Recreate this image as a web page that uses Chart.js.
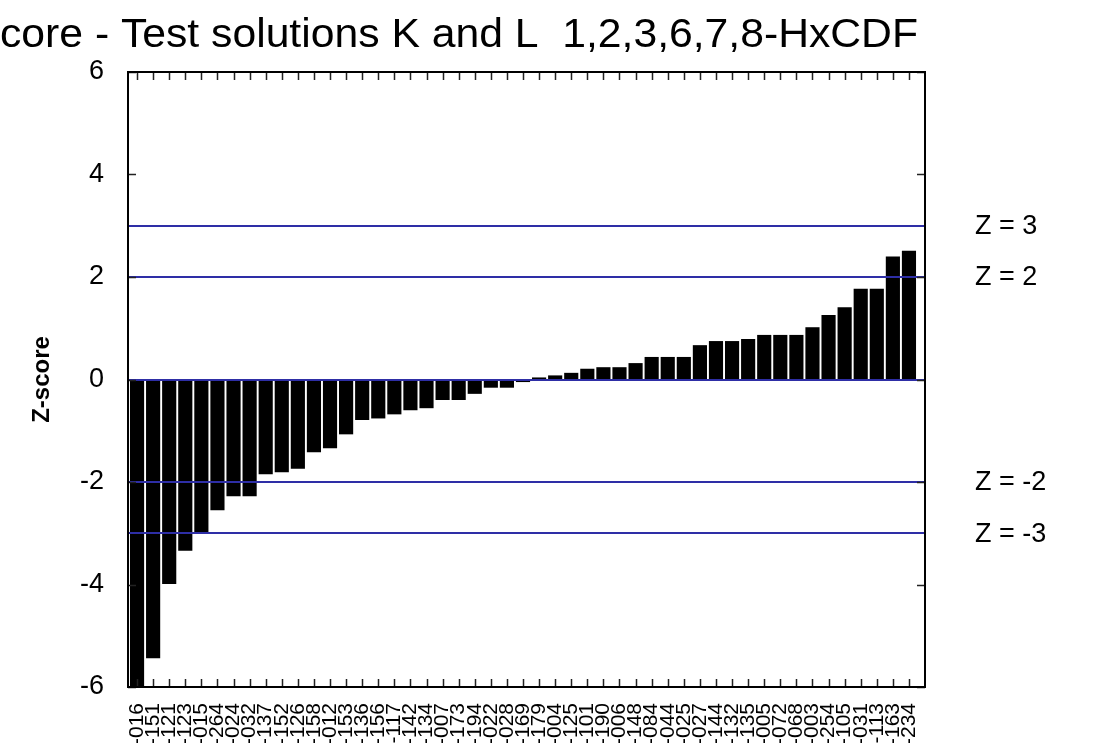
<!DOCTYPE html>
<html>
<head>
<meta charset="utf-8">
<script src="https://cdn.jsdelivr.net/npm/chart.js@4"></script>
<style>
  html, body { margin: 0; padding: 0; background: #fff; overflow: hidden; }
  canvas { display: block; }
</style>
</head>
<body>
<canvas id="grafico" width="1098" height="800"></canvas>
<script>
// Dados do gráfico
const labCodes = ['L-016', 'L-151', 'L-121', 'L-123', 'L-015', 'L-264', 'L-024', 'L-032', 'L-137', 'L-152',
    'L-126', 'L-158', 'L-012', 'L-153', 'L-136', 'L-156', 'L-117', 'L-142', 'L-134', 'L-007',
    'L-173', 'L-194', 'L-022', 'L-028', 'L-169', 'L-179', 'L-004', 'L-125', 'L-101', 'L-190',
    'L-006', 'L-148', 'L-084', 'L-044', 'L-025', 'L-027', 'L-144', 'L-132', 'L-135', 'L-005',
    'L-072', 'L-068', 'L-003', 'L-254', 'L-105', 'L-031', 'L-113', 'L-163', 'L-234'];
const zScores = [-6.4, -5.44, -3.99, -3.34, -3.0, -2.55, -2.28, -2.28, -1.85, -1.81,
    -1.74, -1.42, -1.34, -1.07, -0.79, -0.76, -0.68, -0.60, -0.56, -0.40,
    -0.40, -0.28, -0.16, -0.16, -0.05, 0.04, 0.08, 0.13, 0.21, 0.24,
    0.24, 0.32, 0.44, 0.44, 0.44, 0.67, 0.75, 0.75, 0.79, 0.87,
    0.87, 0.87, 1.02, 1.26, 1.41, 1.77, 1.77, 2.40, 2.51];
const yTicks = [-6, -4, -2, 0, 2, 4, 6];
const refLevels = [3, 2, 0, -2, -3];
const refLabels = ['Z = 3', 'Z = 2', '', 'Z = -2', 'Z = -3'];
const titleFull = 'Z-score - Test solutions K and L  1,2,3,6,7,8-HxCDF';
const titleVisible = 'core - Test solutions K and L  1,2,3,6,7,8-HxCDF';
const yTitle = 'Z-score';

const fonte = '"Liberation Sans", Arial, sans-serif';

// Moldura, linhas de referência e textos extras
const extras = {
    id: 'extras',
    afterDatasetsDraw(chart) {
        const ctx = chart.ctx;
        const area = chart.chartArea;
        const x = chart.scales.x;
        const y = chart.scales.y;
        const left = area.left - 1;
        const right = area.right + 8;

        ctx.save();
        // linhas Z
        ctx.strokeStyle = '#2e2ea6';
        ctx.lineWidth = 2;
        refLevels.forEach(v => {
            const py = Math.round(y.getPixelForValue(v));
            ctx.beginPath();
            ctx.moveTo(left, py);
            ctx.lineTo(right, py);
            ctx.stroke();
        });

        // marcas internas
        ctx.strokeStyle = '#222';
        ctx.lineWidth = 1.5;
        labCodes.forEach((c, i) => {
            const px = Math.round(x.getPixelForValue(i)) + 0.5;
            ctx.beginPath();
            ctx.moveTo(px, area.top);
            ctx.lineTo(px, area.top + 8);
            ctx.moveTo(px, area.bottom);
            ctx.lineTo(px, area.bottom - 8);
            ctx.stroke();
        });
        yTicks.forEach(v => {
            const py = Math.round(y.getPixelForValue(v)) + 0.5;
            ctx.beginPath();
            ctx.moveTo(left, py);
            ctx.lineTo(left + 8, py);
            ctx.moveTo(right, py);
            ctx.lineTo(right - 8, py);
            ctx.stroke();
        });

        // moldura
        ctx.strokeStyle = '#000';
        ctx.lineWidth = 2;
        ctx.strokeRect(left, area.top, right - left, area.bottom - area.top);

        // rótulos Z
        ctx.fillStyle = '#000';
        ctx.font = '27px ' + fonte;
        ctx.textBaseline = 'middle';
        ctx.textAlign = 'left';
        refLevels.forEach((v, i) => {
            if (refLabels[i]) ctx.fillText(refLabels[i], 975, y.getPixelForValue(v) + 1);
        });

        // título do eixo y
        ctx.save();
        ctx.translate(42, (area.top + area.bottom) / 2);
        ctx.rotate(-Math.PI / 2);
        ctx.textAlign = 'center';
        ctx.font = 'bold 24px ' + fonte;
        ctx.fillText(yTitle, 0, 0);
        ctx.restore();

        // título (cortado à esquerda como no original)
        ctx.font = '40px ' + fonte;
        const sx = 918 / ctx.measureText(titleVisible).width;
        ctx.save();
        ctx.scale(sx, 1);
        ctx.textAlign = 'right';
        ctx.textBaseline = 'alphabetic';
        ctx.fillText(titleFull, 918 / sx, 47);
        ctx.restore();

        ctx.restore();
    }
};

const ctx = document.getElementById('grafico').getContext('2d');
const chart = new Chart(ctx, {
    type: 'bar',
    data: {
        labels: labCodes,
        datasets: [{
            label: 'Z-score',
            data: zScores,
            backgroundColor: '#000',
            borderWidth: 0,
            barPercentage: 0.88,
            categoryPercentage: 1.0
        }]
    },
    options: {
        responsive: false,
        animation: false,
        layout: { padding: { top: 72, right: 181, left: 0, bottom: 0 } },
        plugins: {
            legend: { display: false },
            tooltip: { enabled: false },
            title: { display: false }
        },
        scales: {
            x: {
                grid: { display: false },
                border: { display: false },
                afterFit: scale => { scale.height = 113; },
                ticks: {
                    autoSkip: false,
                    minRotation: 90,
                    maxRotation: 90,
                    padding: 8,
                    color: '#000',
                    font: { size: 21, family: fonte }
                }
            },
            y: {
                min: -6,
                max: 6,
                grid: { display: false },
                border: { display: false },
                afterFit: scale => { scale.width = 129; },
                afterBuildTicks: scale => { scale.ticks = yTicks.map(v => ({ value: v })); },
                ticks: {
                    padding: 17,
                    color: '#000',
                    font: { size: 27, family: fonte }
                }
            }
        }
    },
    plugins: [extras]
});
</script>
</body>
</html>
